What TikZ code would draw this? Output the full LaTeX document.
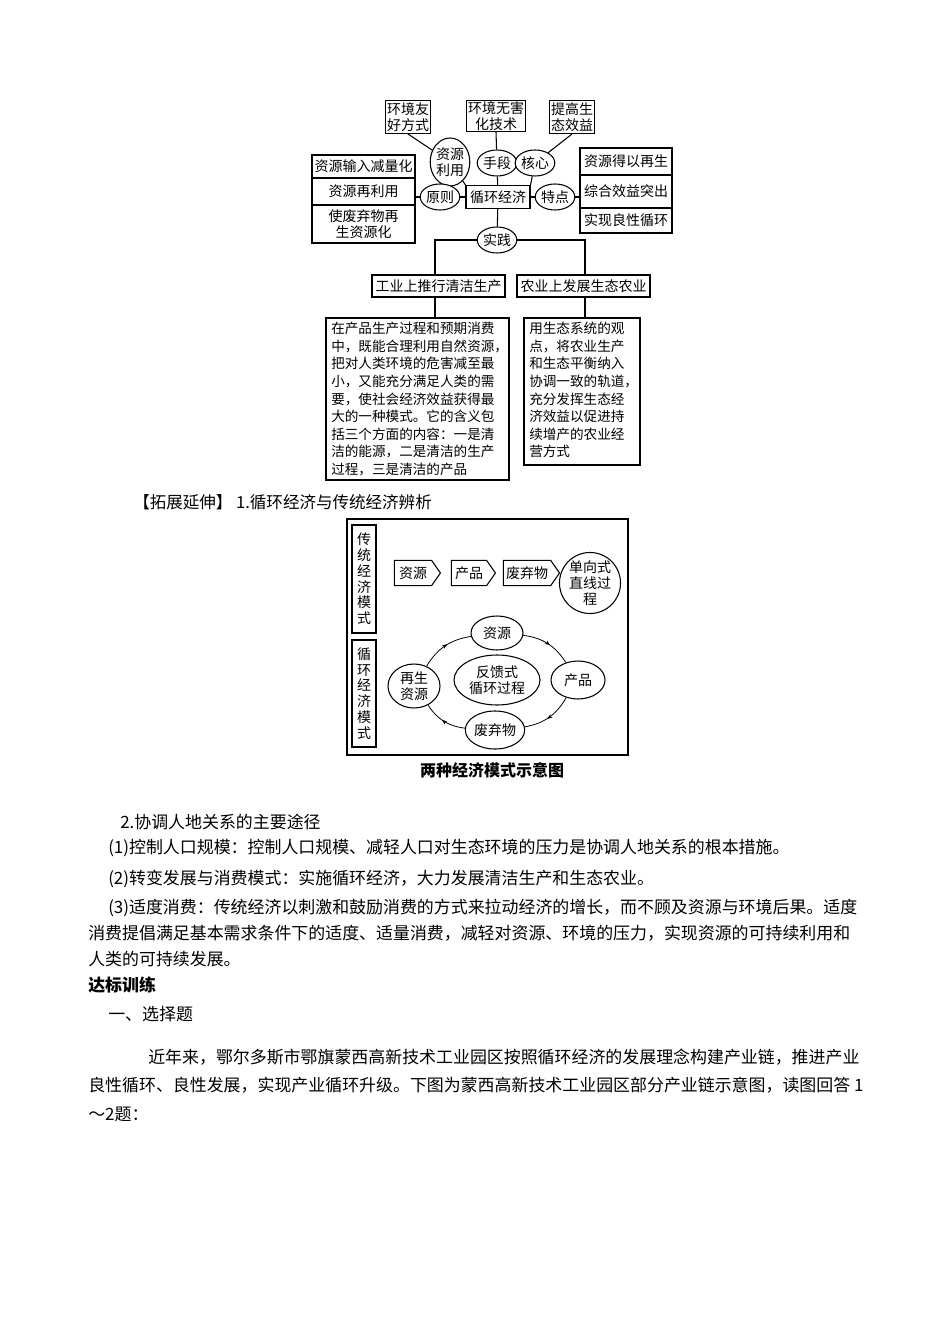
\documentclass[tikz,border=0pt]{standalone}
\usepackage{fontspec}
\setmainfont{Noto Sans CJK SC}
\usetikzlibrary{shapes.geometric,shapes.symbols,decorations.markings,arrows.meta}
\tikzset{
 bx/.style={draw,line width=0.8pt,inner sep=1pt,align=center,font=\fontsize{10.5}{11.8}\selectfont},
 el/.style={draw,ellipse,line width=0.8pt,fill=white,inner sep=0pt,align=center,font=\fontsize{10.5}{11.8}\selectfont},
 ln/.style={line width=0.8pt},
 tx/.style={anchor=west,inner sep=0pt,font=\fontsize{12.7}{14}\selectfont},
 dt/.style={anchor=north west,inner sep=0pt,align=left,font=\fontsize{10.2}{13.2}\selectfont},
 pent/.style={draw,line width=0.8pt,signal,signal to=east,signal pointer angle=110,minimum height=19pt,inner sep=2pt,font=\fontsize{10.5}{11}\selectfont},
 cyc/.style={line width=0.6pt,decoration={markings,mark=at position 0.55 with {\arrow{Stealth[length=4pt]}}},postaction={decorate}}
}
\begin{document}
\begin{tikzpicture}[x=0.75pt,y=-0.75pt]
\fill[white] (0,0) rectangle (950,1344);
\useasboundingbox (0,0) rectangle (950,1344);
% ---------- diagram 1 ----------
\node[bx,minimum width=45*0.75pt,minimum height=33*0.75pt] (a1) at (408,117) {环境友\\好方式};
\node[bx,minimum width=57*0.75pt,minimum height=31*0.75pt] (a2) at (496,116) {环境无害\\化技术};
\node[bx,minimum width=42*0.75pt,minimum height=33*0.75pt] (a3) at (572,117) {提高生\\态效益};
\node[bx,minimum width=64*0.75pt,minimum height=23*0.75pt] (c) at (498,197) {循环经济};
\node[el,minimum width=36*0.75pt,minimum height=48*0.75pt] (e1) at (450,162) {资源\\利用};
\node[el,minimum width=34*0.75pt,minimum height=26*0.75pt] (e2) at (497,163) {手段};
\node[el,minimum width=36*0.75pt,minimum height=26*0.75pt] (e3) at (535,163) {核心};
\node[el,minimum width=36*0.75pt,minimum height=26*0.75pt] (e4) at (440,197) {原则};
\node[el,minimum width=36*0.75pt,minimum height=26*0.75pt] (e5) at (555,197) {特点};
\node[el,minimum width=34*0.75pt,minimum height=26*0.75pt] (e6) at (497,240) {实践};
\draw[ln] (a1.south) -- (e1);
\draw[ln] (a2.south) -- (e2);
\draw[ln] (a3.south) -- (e3);
\draw[ln] (e1) -- (c.north west);
\draw[ln] (e3) -- (c.north east);
\draw[ln] (e2) -- (c);
\draw[ln] (e4) -- (c);
\draw[ln] (e5) -- (c);
\draw[ln] (c) -- (e6);
% left stack
\draw[ln] (312,155) rectangle (415,243);
\draw[ln] (312,178) -- (415,178) (312,205) -- (415,205);
\node[bx,draw=none] (l1) at (363.5,166.5) {资源输入减量化};
\node[bx,draw=none] (l2) at (363.5,191.5) {资源再利用};
\node[bx,draw=none] (l3) at (363.5,224) {使废弃物再\\生资源化};
\coordinate (lr) at (415,197);
\draw[ln] (lr) -- (e4);
% right stack
\draw[ln] (580,148) rectangle (672,233);
\draw[ln] (580,175) -- (672,175) (580,208) -- (672,208);
\node[bx,draw=none] (r1) at (626,161.5) {资源得以再生};
\node[bx,draw=none] (r2) at (626,191.5) {综合效益突出};
\node[bx,draw=none] (r3) at (626,220.5) {实现良性循环};
\coordinate (rl) at (580,197);
\draw[ln] (e5) -- (rl);
% practice
\node[bx,minimum width=133*0.75pt,minimum height=22*0.75pt] (p1) at (438.5,286) {工业上推行清洁生产};
\node[bx,minimum width=133*0.75pt,minimum height=22*0.75pt] (p2) at (583.5,286) {农业上发展生态农业};
\coordinate (h1) at (435,240);
\coordinate (h2) at (585,240);
\draw[ln] (e6) -- (h1) -- (h1|-p1.north);
\draw[ln] (e6) -- (h2) -- (h2|-p2.north);
\draw[ln] (326,318) rectangle (509,480);
\draw[ln] (524,318) rectangle (640,465);
\draw[ln] (435,297) -- (435,318);
\draw[ln] (585,297) -- (585,318);
\node[dt] (t1) at (331,322) {在产品生产过程和预期消费\\中，既能合理利用自然资源，\\把对人类环境的危害减至最\\小，又能充分满足人类的需\\要，使社会经济效益获得最\\大的一种模式。它的含义包\\括三个方面的内容：一是清\\洁的能源，二是清洁的生产\\过程，三是清洁的产品};
\node[dt] (t2) at (529,322) {用生态系统的观\\点，将农业生产\\和生态平衡纳入\\协调一致的轨道，\\充分发挥生态经\\济效益以促进持\\续增产的农业经\\营方式};
% ---------- heading ----------
\node[tx,font=\fontsize{12.4}{14}\selectfont] (h) at (133,502) {【拓展延伸】 1.循环经济与传统经济辨析};
% ---------- diagram 2 ----------
\draw[line width=0.9pt] (347,519) rectangle (628,755);
\draw[ln] (352,525) rectangle (376,633);
\draw[ln] (352,640) rectangle (376,747);
\node[bx,draw=none] (v1) at (364,579) {传\\统\\经\\济\\模\\式};
\node[bx,draw=none] (v2) at (364,693.5) {循\\环\\经\\济\\模\\式};
\node[pent,minimum width=46*0.75pt] (s1) at (413,573) {资源};
\node[pent,minimum width=44*0.75pt] (s2) at (469,573) {产品};
\node[pent,minimum width=52*0.75pt] (s3) at (527,573) {废弃物};
\node[el,circle,minimum size=58*0.75pt] (s4) at (590,583) {单向式\\直线过\\程};
\node[el,minimum width=52*0.75pt,minimum height=34*0.75pt] (k1) at (497,633) {资源};
\node[el,minimum width=54*0.75pt,minimum height=38*0.75pt] (k2) at (578,680) {产品};
\node[el,minimum width=54*0.75pt,minimum height=38*0.75pt] (k3) at (495,730) {废弃物};
\node[el,minimum width=52*0.75pt,minimum height=44*0.75pt] (k4) at (414,686) {再生\\资源};
\node[el,minimum width=86*0.75pt,minimum height=50*0.75pt] (k5) at (497,680) {反馈式\\循环过程};
\draw[cyc] (k1) to[bend left=25] (k2);
\draw[cyc] (k2) to[bend left=25] (k3);
\draw[cyc] (k3) to[bend left=25] (k4);
\draw[cyc] (k4) to[bend left=25] (k1);
\node[font=\bfseries\fontsize{12}{13}\selectfont] (cap) at (492,770) {两种经济模式示意图};
% ---------- body text ----------
\node[tx] (b1) at (120,822) {2.协调人地关系的主要途径};
\node[tx] (b2) at (108,848) {(1)控制人口规模：控制人口规模、减轻人口对生态环境的压力是协调人地关系的根本措施。};
\node[tx] (b3) at (108,879) {(2)转变发展与消费模式：实施循环经济，大力发展清洁生产和生态农业。};
\node[tx] (b4) at (108,908) {(3)适度消费：传统经济以刺激和鼓励消费的方式来拉动经济的增长，而不顾及资源与环境后果。适度};
\node[tx] (b5) at (88,933) {消费提倡满足基本需求条件下的适度、适量消费，减轻对资源、环境的压力，实现资源的可持续利用和};
\node[tx] (b6) at (88,959) {人类的可持续发展。};
\node[tx,font=\bfseries\fontsize{12.7}{14}\selectfont] (b7) at (88,985) {达标训练};
\node[tx] (b8) at (108,1014) {一、选择题};
\node[tx] (b9) at (148,1057) {近年来，鄂尔多斯市鄂旗蒙西高新技术工业园区按照循环经济的发展理念构建产业链，推进产业};
\node[tx] (b10) at (88,1085) {良性循环、良性发展，实现产业循环升级。下图为蒙西高新技术工业园区部分产业链示意图，读图回答 1};
\node[tx] (b11) at (88,1114) {～2题：};
\end{tikzpicture}
\end{document}
